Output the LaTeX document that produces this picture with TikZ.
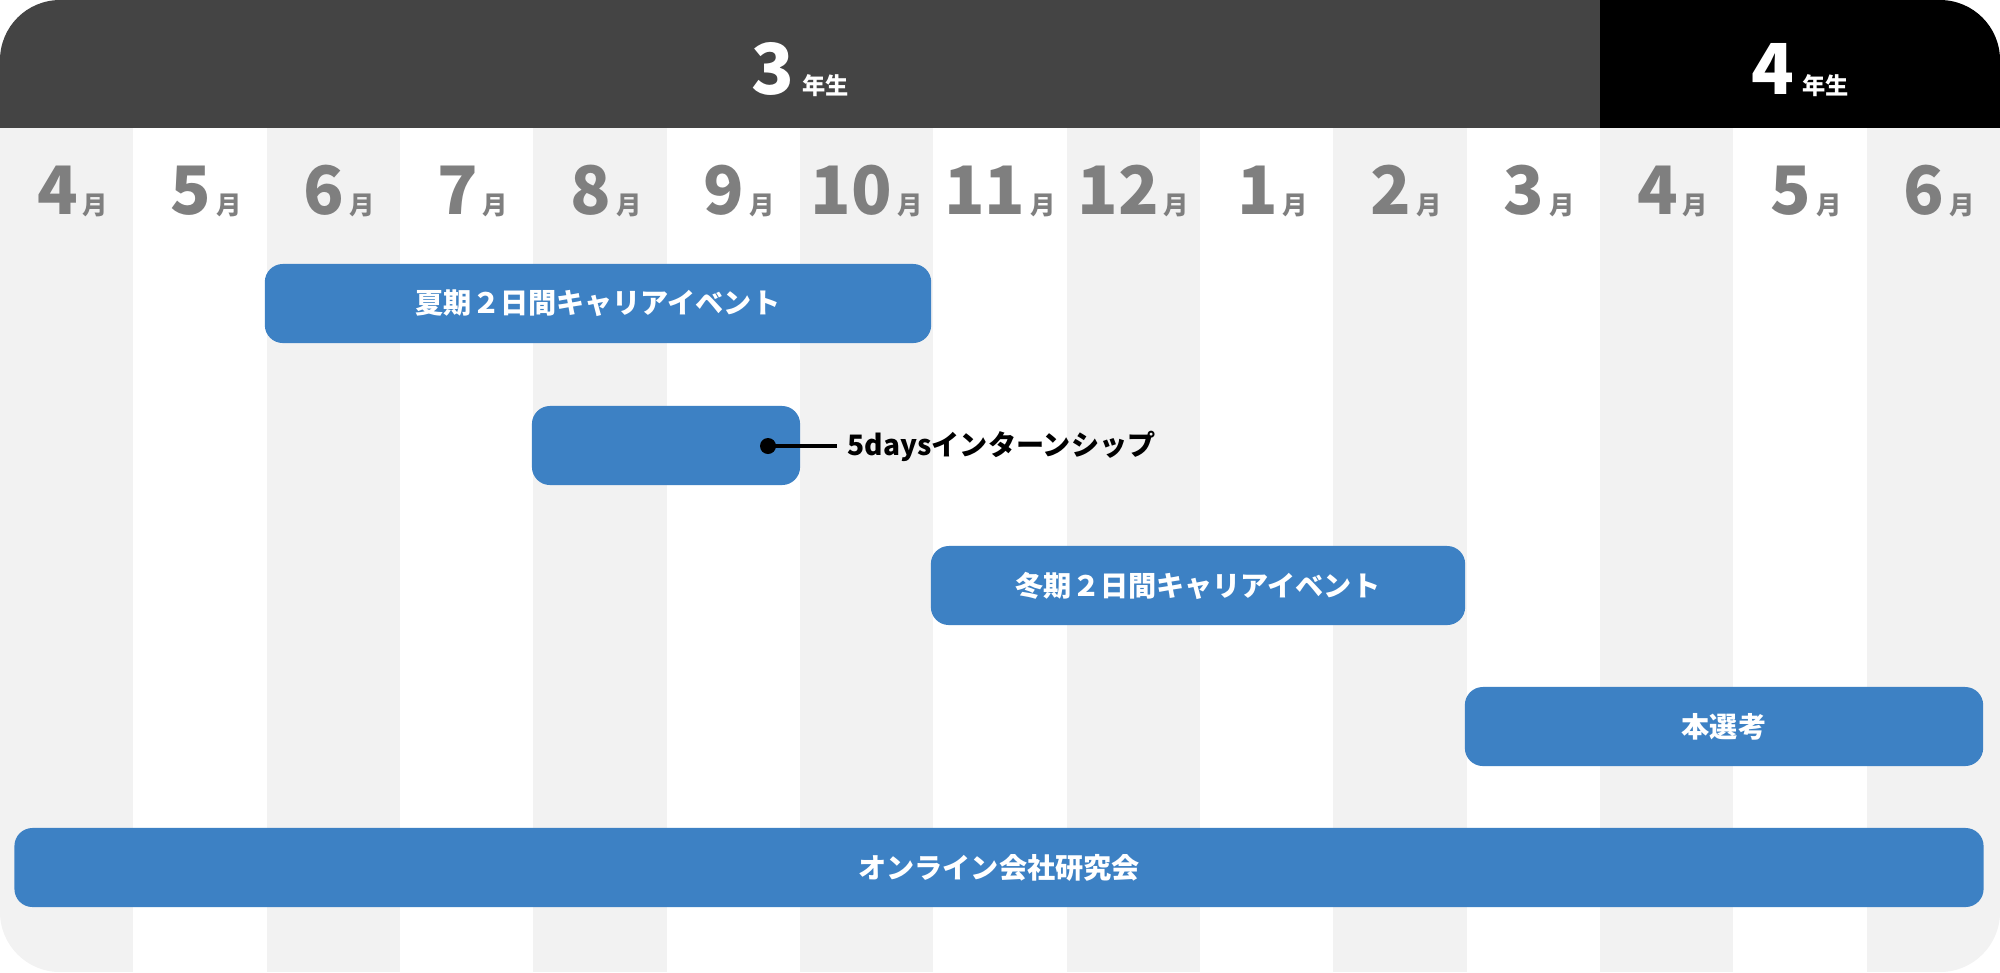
\documentclass[tikz,border=0pt]{standalone}
\usepackage{fontspec}
\setmainfont{Noto Sans CJK JP}
\definecolor{hdr}{HTML}{444444}
\definecolor{colgray}{HTML}{F2F2F2}
\definecolor{monthgray}{HTML}{7F7F7F}
\definecolor{barblue}{HTML}{3D81C4}
\tikzset{
  yearlbl/.style={text=white, font=\bfseries\fontsize{20}{20}\selectfont, inner sep=0pt},
  monthlbl/.style={text=monthgray, font=\bfseries\fontsize{19}{19}\selectfont, inner sep=0pt},
  bar/.style={fill=barblue, rounded corners=0.18cm, text=white, font=\bfseries\fontsize{8}{8}\selectfont, inner sep=0pt, minimum height=0.79cm},
  note/.style={text=black, font=\bfseries\fontsize{8}{8}\selectfont, inner sep=0pt, anchor=west}
}
\newcommand{\smallj}[1]{{\fontsize{7.2}{7.2}\selectfont #1}}
\newcommand{\yearj}[1]{{\fontsize{6.6}{6.6}\selectfont #1}}
\begin{document}
\begin{tikzpicture}[x=0.01cm,y=-0.01cm]
\useasboundingbox (0,0) rectangle (2000,972);
\begin{scope}
\clip[rounded corners=0.6cm] (0,0) rectangle (2000,972);
\fill[white] (0,0) rectangle (2000,972);
\foreach \i in {0,2,...,14} \fill[colgray] ({\i*133.333},128) rectangle ({(\i+1)*133.333},972);
\fill[hdr] (0,0) rectangle (1600,128);
\fill[black] (1600,0) rectangle (2000,128);
\end{scope}
\node[yearlbl] (y3) at (800,70) {3\hspace{0.08cm}\yearj{年生}};
\node[yearlbl] (y4) at (1800,70) {4\hspace{0.08cm}\yearj{年生}};
\foreach \m/\dx [count=\k from 0] in {4/6,5/6,6/6,7/6,8/6,9/6,10/0,11/0,12/0,1/6,2/6,3/6,4/6,5/6,6/6}
  \node[monthlbl] (m\k) at ({(\k+0.5)*133.333+\dx},191) {\m\hspace{0.05cm}\smallj{月}};
\node[bar, minimum width=6.66cm] (b1) at (598,303.5) {夏期２日間キャリアイベント};
\node[bar, minimum width=2.68cm] (b2) at (666,445.5) {};
\node[bar, minimum width=5.34cm] (b3) at (1198,585.5) {冬期２日間キャリアイベント};
\node[bar, minimum width=5.18cm] (b4) at (1724,726.5) {本選考};
\node[bar, minimum width=19.68cm] (b5) at (999,867.5) {オンライン会社研究会};
\coordinate (dot) at (768,446);
\fill (dot) circle (0.08cm);
\node[note] (lbl) at (847,446) {5daysインターンシップ};
\draw[line width=1pt] (dot) -- ([xshift=-0.1cm]lbl.west);
\end{tikzpicture}
\end{document}
